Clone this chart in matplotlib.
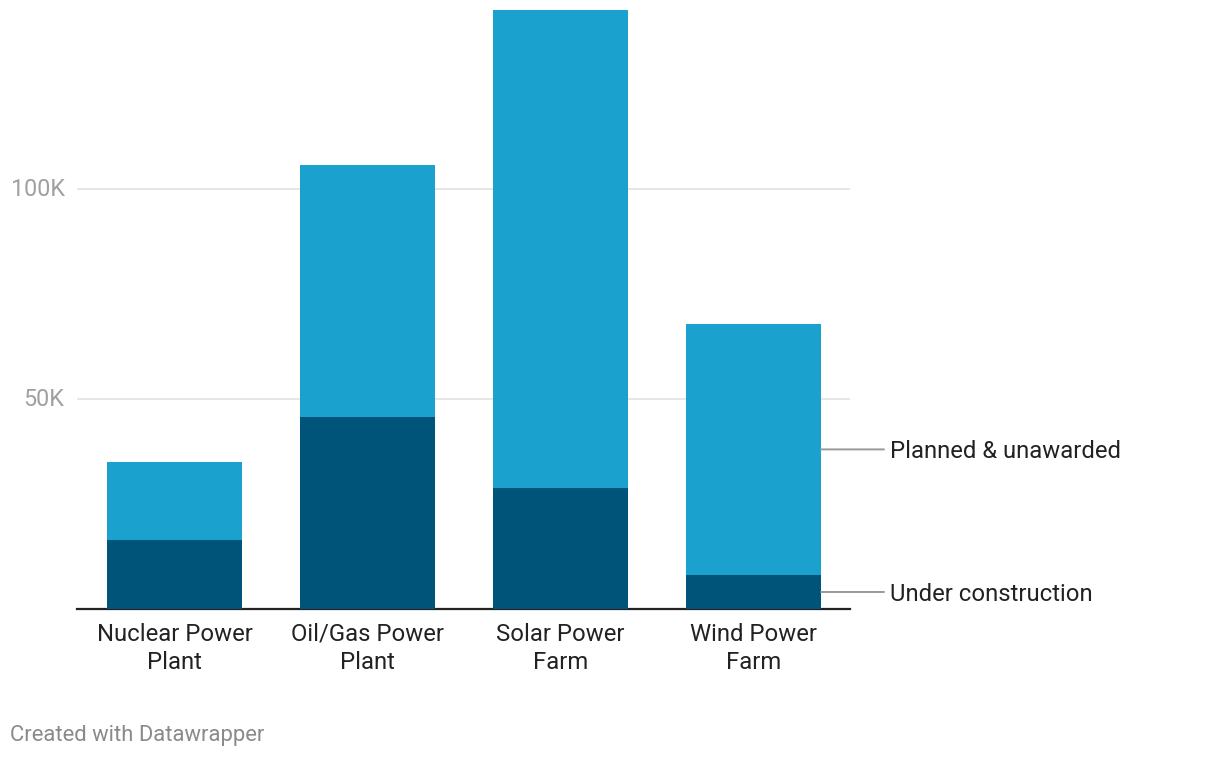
import matplotlib
matplotlib.use("Agg")
import matplotlib.pyplot as plt

plt.rcParams['font.family'] = ['Roboto', 'DejaVu Sans']

categories = ["Nuclear Power\nPlant", "Oil/Gas Power\nPlant", "Solar Power\nFarm", "Wind Power\nFarm"]
under_construction = [16.4, 45.7, 28.8, 8.1]   # thousands
planned_unawarded = [18.6, 60.0, 113.8, 59.8]  # thousands
series_names = ["Under construction", "Planned & unawarded"]
yticks = [50, 100]
ytick_labels = ["50K", "100K"]

c_dark = "#005479"
c_light = "#1aa1ce"

W, H = 1220, 758
fig = plt.figure(figsize=(W / 100, H / 100), dpi=100)
ax_left, ax_right, ax_top, ax_bottom = 77, 850, 10, 609
ax = fig.add_axes([ax_left / W, 1 - ax_bottom / H, (ax_right - ax_left) / W, (ax_bottom - ax_top) / H])

x = list(range(len(categories)))
ax.bar(x, under_construction, width=0.7, color=c_dark, zorder=3)
ax.bar(x, planned_unawarded, width=0.7, bottom=under_construction, color=c_light, zorder=3)

ax.set_xlim(-0.505, 3.5)
ax.set_ylim(0, (ax_bottom - ax_top) / 4.2)

ax.set_yticks(yticks)
ax.set_yticklabels(ytick_labels)
ax.yaxis.grid(True, color="#e2e2e2", linewidth=1.2)
ax.set_axisbelow(True)
for s in ["top", "right", "left"]:
    ax.spines[s].set_visible(False)
ax.spines["bottom"].set_color("#222222")
ax.spines["bottom"].set_linewidth(1.6)
ax.tick_params(axis="y", length=0, pad=9, labelsize=16.8, labelcolor="#a0a0a0")
ax.tick_params(axis="x", length=0, pad=10, labelsize=17.2, labelcolor="#222222")
for lbl in ax.get_yticklabels():
    lbl.set_verticalalignment("center")
ax.set_xticks(x)
ax.set_xticklabels(categories, linespacing=1.3)

# direct labels for the last bar
last = len(categories) - 1
y_uc = under_construction[last] / 2
y_pl = under_construction[last] + planned_unawarded[last] / 2
for yv, name in [(y_uc, series_names[0]), (y_pl, series_names[1])]:
    ax.annotate("", xy=(last + 0.35, yv), xytext=(last + 0.676, yv),
                arrowprops=dict(arrowstyle="-", color="#999999", lw=1.4,
                                shrinkA=0, shrinkB=0),
                annotation_clip=False)
    ax.annotate(name, xy=(last + 0.35 + (890 - 821) / 193, yv), xytext=(0, -1.5),
                textcoords="offset points", ha="left", va="center",
                fontsize=17.2, color="#222222", annotation_clip=False)

fig.text(10 / W, 1 - 735 / H, "Created with Datawrapper", ha="left", va="center",
         fontsize=15.8, color="#8a8a8a")

fig.savefig("out.png", dpi=100, facecolor="white")
